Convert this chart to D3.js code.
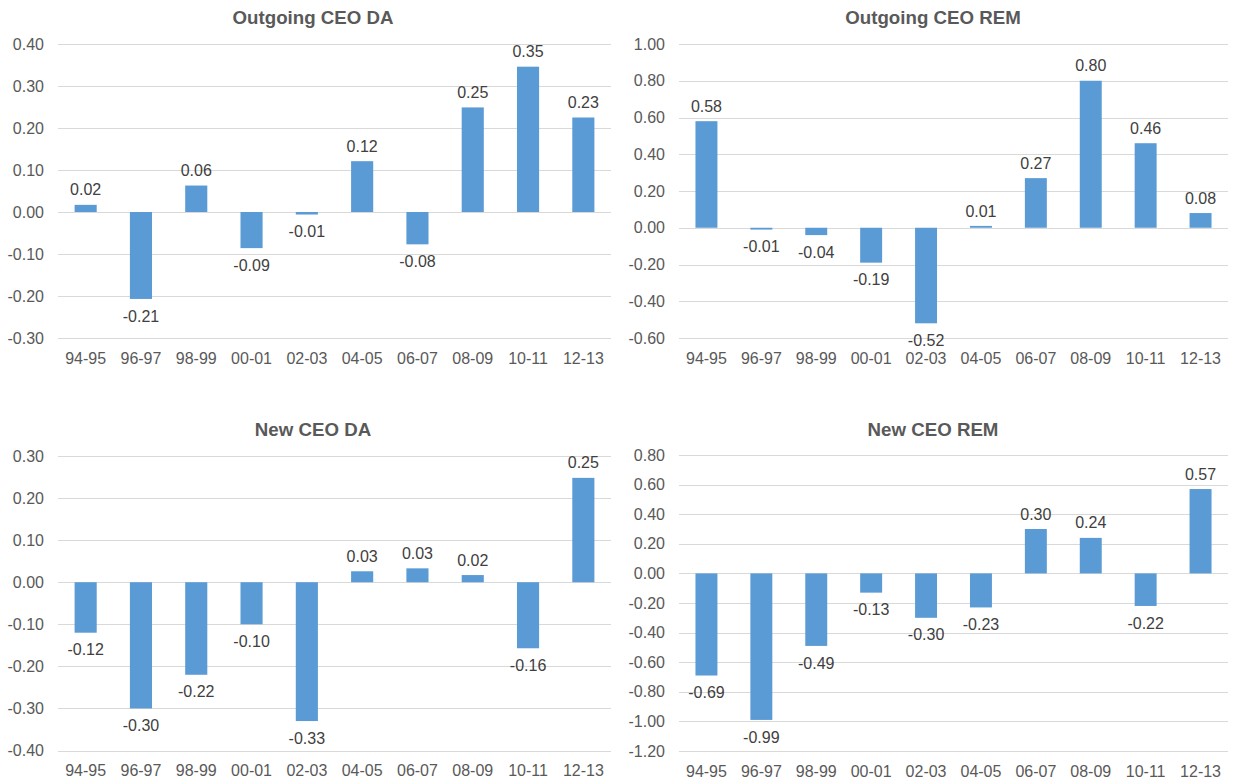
<!DOCTYPE html>
<html>
<head>
<meta charset="utf-8">
<script src="https://cdn.jsdelivr.net/npm/d3@7"></script>
<style>
  body { margin: 0; background: #fff; }
  svg { font-family: 'Liberation Sans', Arial, sans-serif; }
</style>
</head>
<body>
<div id="chart"></div>
<script>
// Periods on the x axis (same for all four panels)
const periods = ['94-95', '96-97', '98-99', '00-01', '02-03', '04-05', '06-07', '08-09', '10-11', '12-13']

// Series values
const outgoingDA = [0.017, -0.207, 0.063, -0.086, -0.006, 0.121, -0.077, 0.249, 0.346, 0.225]
const outgoingREM = [0.58, -0.01, -0.04, -0.19, -0.52, 0.01, 0.27, 0.80, 0.46, 0.08]
const newDA = [-0.12, -0.30, -0.22, -0.10, -0.33, 0.026, 0.033, 0.017, -0.157, 0.248]
const newREM = [-0.69, -0.99, -0.49, -0.13, -0.30, -0.23, 0.30, 0.24, -0.22, 0.57]

// Y tick values per panel
const ticksOutgoingDA = [-0.3, -0.2, -0.1, 0, 0.1, 0.2, 0.3, 0.4]
const ticksOutgoingREM = [-0.6, -0.4, -0.2, 0, 0.2, 0.4, 0.6, 0.8, 1.0]
const ticksNewDA = [-0.4, -0.3, -0.2, -0.1, 0, 0.1, 0.2, 0.3]
const ticksNewREM = [-1.2, -1.0, -0.8, -0.6, -0.4, -0.2, 0, 0.2, 0.4, 0.6, 0.8]

const svg = d3.select('#chart')
  .append('svg')
  .attr('width', 1234)
  .attr('height', 781)

// plain hyphen for negatives, like the original
const fmt = d3.formatLocale({ decimal: '.', thousands: ',', grouping: [3], currency: ['', ''], minus: '-' }).format('.2f')
const textColor = '#595959'

function drawPanel ({ title, values, ticks, left, right, top, bottom, titleX, titleY }) {
  const g = svg.append('g')

  const x = d3.scaleBand()
    .domain(periods)
    .range([left, right])
    .paddingInner(0.6)
    .paddingOuter(0.3)

  const y = d3.scaleLinear()
    .domain(d3.extent(ticks))
    .range([bottom, top])

  // gridlines
  g.selectAll('line.grid')
    .data(ticks)
    .join('line')
    .attr('x1', left)
    .attr('x2', right)
    .attr('y1', d => Math.round(y(d)) + 0.5)
    .attr('y2', d => Math.round(y(d)) + 0.5)
    .attr('stroke', '#d9d9d9')
    .attr('stroke-width', 1)

  // y labels
  g.selectAll('text.ytick')
    .data(ticks)
    .join('text')
    .attr('x', left - 14)
    .attr('y', d => y(d))
    .attr('dy', '0.35em')
    .attr('text-anchor', 'end')
    .style('font-size', '16px')
    .attr('fill', textColor)
    .text(d => fmt(d))

  // x labels
  g.selectAll('text.xtick')
    .data(periods)
    .join('text')
    .attr('x', d => x(d) + x.bandwidth() / 2)
    .attr('y', bottom + 20)
    .attr('dy', '0.35em')
    .attr('text-anchor', 'middle')
    .style('font-size', '16px')
    .attr('fill', textColor)
    .text(d => d)

  const data = periods.map((p, i) => ({ p, v: values[i] }))

  // bars
  g.selectAll('rect')
    .data(data)
    .join('rect')
    .attr('x', d => x(d.p))
    .attr('width', x.bandwidth())
    .attr('y', d => y(Math.max(0, d.v)))
    .attr('height', d => Math.abs(y(d.v) - y(0)))
    .attr('fill', '#5b9bd5')

  // data labels
  g.selectAll('text.lbl')
    .data(data)
    .join('text')
    .attr('x', d => x(d.p) + x.bandwidth() / 2)
    .attr('y', d => d.v >= 0 ? y(d.v) - 15 : y(d.v) + 17)
    .attr('dy', '0.35em')
    .attr('text-anchor', 'middle')
    .style('font-size', '16px')
    .attr('fill', '#404040')
    .text(d => fmt(d.v))

  // title
  g.append('text')
    .attr('x', titleX)
    .attr('y', titleY)
    .attr('text-anchor', 'middle')
    .style('font-size', '18.7px')
    .style('font-weight', 'bold')
    .attr('fill', textColor)
    .text(title)
}

drawPanel({ title: 'Outgoing CEO DA', values: outgoingDA, ticks: ticksOutgoingDA, left: 58, right: 611, top: 44, bottom: 338, titleX: 313, titleY: 24 })
drawPanel({ title: 'Outgoing CEO REM', values: outgoingREM, ticks: ticksOutgoingREM, left: 679, right: 1228, top: 44, bottom: 338, titleX: 933, titleY: 24 })
drawPanel({ title: 'New CEO DA', values: newDA, ticks: ticksNewDA, left: 58, right: 611, top: 456, bottom: 750.5, titleX: 313, titleY: 436 })
drawPanel({ title: 'New CEO REM', values: newREM, ticks: ticksNewREM, left: 679, right: 1228, top: 455, bottom: 751, titleX: 933, titleY: 436 })
</script>
</body>
</html>
